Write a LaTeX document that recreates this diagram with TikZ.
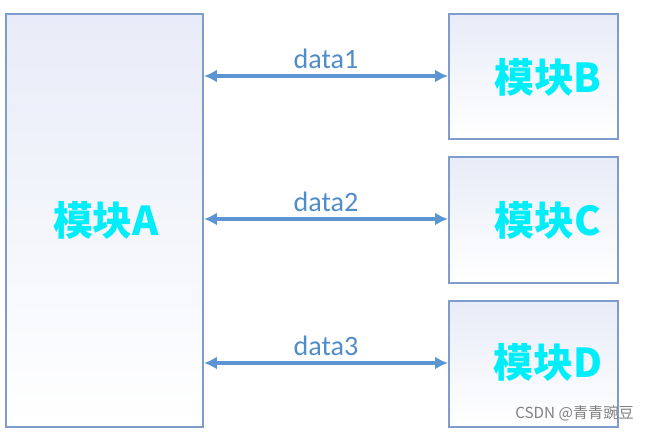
\documentclass[tikz,border=0pt]{standalone}
\usepackage{fontspec}
\setmainfont{Carlito}
\newfontfamily\cjk{Noto Sans CJK SC}
\usetikzlibrary{arrows.meta}
\definecolor{boxline}{RGB}{127,157,204}
\definecolor{boxtop}{RGB}{232,236,248}
\definecolor{arrowblue}{RGB}{91,150,210}
\definecolor{modtext}{RGB}{0,238,250}
\definecolor{datatext}{RGB}{80,140,200}
\tikzset{
  modbox/.style={draw=boxline, line width=0.9pt, top color=boxtop, bottom color=white},
  modlabel/.style={font=\cjk\fontsize{34}{40}\selectfont\bfseries, text=modtext},
  link/.style={draw=arrowblue, line width=2.6pt, {Latex[length=11pt,width=11pt]}-{Latex[length=11pt,width=11pt]}},
  datalabel/.style={font=\fontsize{24}{28}\selectfont, text=datatext, above=2pt}
}
\begin{document}
\begin{tikzpicture}[x=0.03cm,y=-0.03cm]
\useasboundingbox (0,0) rectangle (650,433);
% modules
\path[modbox] (6,14) rectangle (203,427);
\path[modbox] (449,14) rectangle (618,139);
\path[modbox] (449,157) rectangle (618,283);
\path[modbox] (449,301) rectangle (618,427);
\node[modlabel] (a) at (106,220) {模块A};
\node[modlabel] (b) at (548,77) {模块B};
\node[modlabel] (c) at (548,220) {模块C};
\node[modlabel] (d) at (548,362) {模块D};
% connectors
\coordinate (a1) at (204,76);
\coordinate (b1) at (448,76);
\coordinate (a2) at (204,219);
\coordinate (c1) at (448,219);
\coordinate (a3) at (204,363);
\coordinate (d1) at (448,363);
\draw[link] (a1) -- node[datalabel] {data1} (b1);
\draw[link] (a2) -- node[datalabel] {data2} (c1);
\draw[link] (a3) -- node[datalabel] {data3} (d1);
\node[anchor=east, text=gray, font=\cjk\fontsize{13}{15}\selectfont] (mark) at (638,413) {CSDN @青青豌豆};
\end{tikzpicture}
\end{document}
